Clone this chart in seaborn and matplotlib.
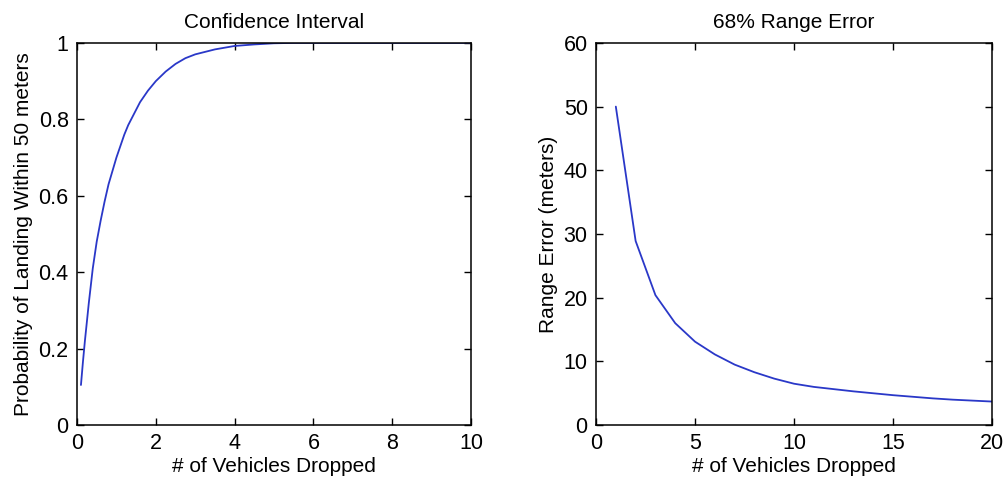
import matplotlib
matplotlib.use("Agg")
import matplotlib.pyplot as plt
import seaborn as sns
import pandas as pd

# Confidence interval: probability of landing within 50 m vs vehicles dropped
ci_vehicles = [0.1, 0.15, 0.2, 0.25, 0.3, 0.35, 0.4, 0.45, 0.5, 0.6, 0.7, 0.8,
               0.9, 1.0, 1.1, 1.2, 1.3, 1.4, 1.5, 1.6, 1.8, 2.0, 2.25, 2.5,
               2.75, 3.0, 3.5, 4.0, 4.5, 5.0, 5.5, 6.0, 7.0, 8.0, 9.0, 10.0]
ci_probability = [0.105, 0.165, 0.22, 0.27, 0.32, 0.365, 0.41, 0.445, 0.48,
                  0.535, 0.585, 0.63, 0.665, 0.70, 0.73, 0.76, 0.785, 0.805,
                  0.825, 0.845, 0.875, 0.90, 0.925, 0.945, 0.96, 0.97, 0.983,
                  0.992, 0.996, 0.999, 1.0, 1.0, 1.0, 1.0, 1.0, 1.0]

# 68% range error vs vehicles dropped
re_vehicles = list(range(1, 21))
re_error = [50.0, 28.9, 20.4, 16.0, 13.1, 11.1, 9.5, 8.3, 7.3, 6.5,
            6.0, 5.65, 5.3, 5.0, 4.7, 4.45, 4.2, 4.0, 3.85, 3.7]

sns.set_theme(style="white")
plt.rcParams["font.family"] = ["Liberation Sans", "DejaVu Sans"]

line_color = "#2a38c8"
tick_fs = 15.5
label_fs = 15
title_fs = 15

fig = plt.figure(figsize=(10.08, 4.82), dpi=100)
ax1 = fig.add_axes([0.0764, 0.118, 0.3909, 0.793])
ax2 = fig.add_axes([0.5913, 0.118, 0.3929, 0.793])

df1 = pd.DataFrame({"x": ci_vehicles, "y": ci_probability})
df2 = pd.DataFrame({"x": re_vehicles, "y": re_error})

sns.lineplot(data=df1, x="x", y="y", ax=ax1, color=line_color, linewidth=1.3)
sns.lineplot(data=df2, x="x", y="y", ax=ax2, color=line_color, linewidth=1.3)

ax1.set_xlim(0, 10)
ax1.set_ylim(0, 1)
ax1.set_xticks([0, 2, 4, 6, 8, 10])
ax1.set_yticks([0, 0.2, 0.4, 0.6, 0.8, 1])
ax1.set_yticklabels(["0", "0.2", "0.4", "0.6", "0.8", "1"])
ax1.set_title("Confidence Interval", fontsize=title_fs, pad=11)
ax1.set_xlabel("# of Vehicles Dropped", fontsize=label_fs, labelpad=2)
ax1.set_ylabel("Probability of Landing Within 50 meters", fontsize=label_fs,
               labelpad=4)

ax2.set_xlim(0, 20)
ax2.set_ylim(0, 60)
ax2.set_xticks([0, 5, 10, 15, 20])
ax2.set_yticks([0, 10, 20, 30, 40, 50, 60])
ax2.set_title("68% Range Error", fontsize=title_fs, pad=11)
ax2.set_xlabel("# of Vehicles Dropped", fontsize=label_fs, labelpad=2)
ax2.set_ylabel("Range Error (meters)", fontsize=label_fs, labelpad=4)

for ax in (ax1, ax2):
    for sp in ax.spines.values():
        sp.set_visible(True)
        sp.set_color("black")
        sp.set_linewidth(1.1)
    ax.tick_params(direction="in", length=5, width=1.0, top=True, right=True,
                   bottom=True, left=True, labelsize=tick_fs, colors="black",
                   pad=6)
    ax.xaxis.label.set_color("black")
    ax.yaxis.label.set_color("black")
    ax.title.set_color("black")

fig.savefig("out.png", dpi=100)
